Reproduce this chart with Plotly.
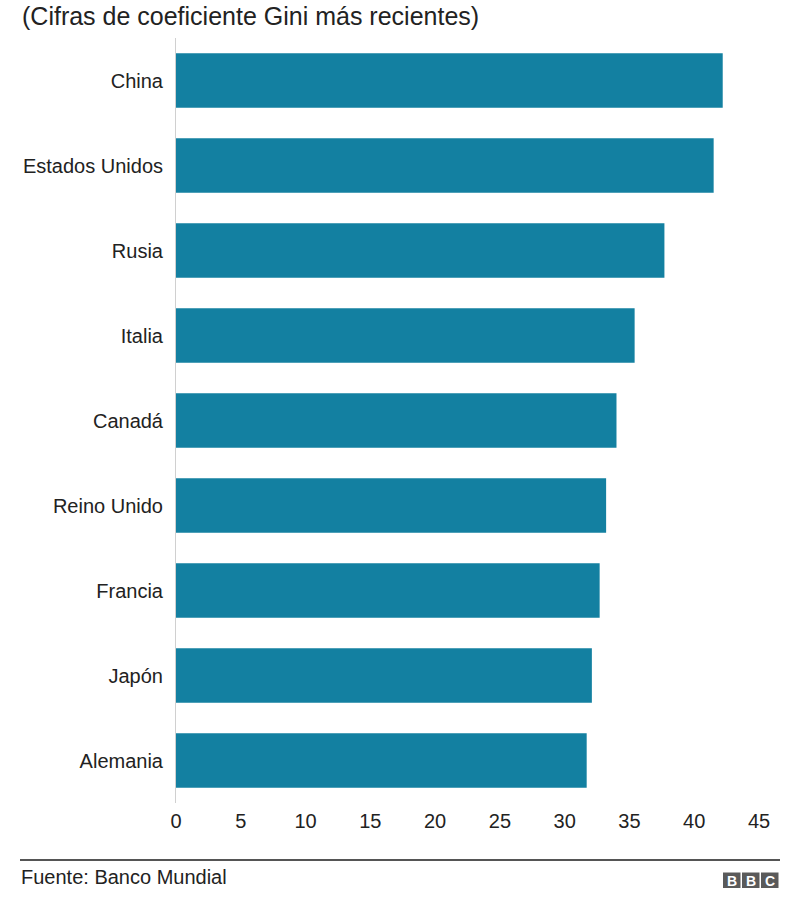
import plotly.graph_objects as go

countries = ["China", "Estados Unidos", "Rusia", "Italia", "Canadá",
             "Reino Unido", "Francia", "Japón", "Alemania"]
gini = [42.2, 41.5, 37.7, 35.4, 34.0, 33.2, 32.7, 32.1, 31.7]
x_ticks = [0, 5, 10, 15, 20, 25, 30, 35, 40, 45]

title_text = "(Cifras de coeficiente Gini más recientes)"
source_text = "Fuente: Banco Mundial"

W, H = 800, 915
L, R, T, B = 176, 759, 38, 803
FONT = "Liberation Sans, Arial, Helvetica, sans-serif"
BAR = "#1380A1"


def px(x):
    return (x - L) / (R - L)


def py(y):
    return (B - y) / (B - T)


fig = go.Figure(go.Bar(
    x=gini, y=countries, orientation="h",
    marker=dict(color=BAR, line=dict(width=0)),
    hoverinfo="x+y",
))

fig.update_layout(
    width=W, height=H,
    margin=dict(l=L, r=W - R, t=T, b=H - B),
    paper_bgcolor="white", plot_bgcolor="white",
    font=dict(family=FONT, size=20, color="#222222"),
    bargap=0.36,
    showlegend=False,
)
fig.update_xaxes(
    range=[0, 45], tickvals=x_ticks, ticktext=[str(t) for t in x_ticks],
    showgrid=False, zeroline=False, showline=False, ticks="",
    ticklabelstandoff=4, tickfont=dict(size=20, color="#222222"),
)
fig.update_yaxes(
    autorange="reversed", showgrid=False, zeroline=False,
    showline=True, linecolor="#d0d0d0", linewidth=1, ticks="",
    ticklabelstandoff=8, tickfont=dict(size=20, color="#222222"),
)

shapes = [
    dict(type="line", xref="paper", yref="paper",
         x0=px(20), x1=px(780), y0=py(860), y1=py(860),
         line=dict(color="#555555", width=2)),
]
annotations = [
    dict(text=title_text, xref="paper", yref="paper",
         x=px(20), y=py(0), xanchor="left", yanchor="top", showarrow=False,
         font=dict(size=25, color="#222222", family=FONT)),
    dict(text=source_text, xref="paper", yref="paper",
         x=px(19), y=py(877), xanchor="left", yanchor="middle", showarrow=False,
         font=dict(size=20, color="#222222", family=FONT)),
]
for i, letter in enumerate("BBC"):
    x0 = 723 + i * 19
    shapes.append(dict(type="rect", xref="paper", yref="paper",
                       x0=px(x0), x1=px(x0 + 17.5), y0=py(888), y1=py(872.5),
                       fillcolor="#5a5a5a", line=dict(width=0)))
    annotations.append(dict(text="<b>%s</b>" % letter, xref="paper", yref="paper",
                            x=px(x0 + 8.75), y=py(880.5), xanchor="center",
                            yanchor="middle", showarrow=False,
                            font=dict(size=14, color="white", family=FONT)))

fig.update_layout(shapes=shapes, annotations=annotations)
fig.write_html(
    "out.html",
    config={"displayModeBar": False},
    post_script="document.body.style.margin='0';document.body.style.overflow='hidden';",
)
